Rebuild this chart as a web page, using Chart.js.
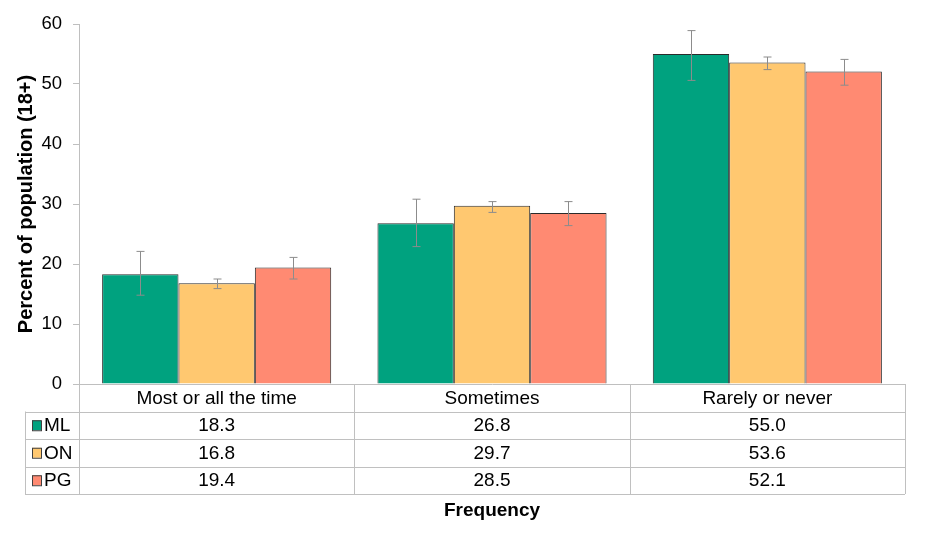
<!DOCTYPE html>
<html>
<head>
<meta charset="utf-8">
<script src="https://cdn.jsdelivr.net/npm/chart.js@4"></script>
<style>
  body { margin: 0; background: #fff; }
  #wrap { width: 930px; height: 558px; }
</style>
</head>
<body>
<div id="wrap"><canvas id="barChart" width="930" height="558"></canvas></div>
<script>
// Data
const categories = ['Most or all the time', 'Sometimes', 'Rarely or never'];
const seriesNames = ['ML', 'ON', 'PG'];
const mlValues = [18.3, 26.8, 55.0];
const onValues = [16.8, 29.7, 53.6];
const pgValues = [19.4, 28.5, 52.1];
// 95% CI
const mlLow = [14.8, 22.9, 50.6];
const mlHigh = [22.1, 30.8, 58.9];
const onLow = [15.9, 28.6, 52.4];
const onHigh = [17.5, 30.4, 54.5];
const pgLow = [17.5, 26.4, 49.8];
const pgHigh = [21.1, 30.4, 54.1];
const yTicks = [0, 10, 20, 30, 40, 50, 60];

const colors = ['#00a27f', '#ffc870', '#ff8a72'];
const FONT = '"Liberation Sans", Arial, sans-serif';

// Error bars
const errorBars = {
  id: 'errorBars',
  afterDatasetsDraw(chart) {
    const ctx = chart.ctx;
    const y = chart.scales.y;
    ctx.save();
    ctx.strokeStyle = '#8c8c8c';
    ctx.lineWidth = 1;
    chart.data.datasets.forEach((ds, i) => {
      const meta = chart.getDatasetMeta(i);
      meta.data.forEach((bar, j) => {
        const x = Math.round(bar.x) + 0.5;
        const top = y.getPixelForValue(ds.high[j]);
        const bot = y.getPixelForValue(ds.low[j]);
        ctx.beginPath();
        ctx.moveTo(x, top); ctx.lineTo(x, bot);
        ctx.moveTo(x - 4, top); ctx.lineTo(x + 4, top);
        ctx.moveTo(x - 4, bot); ctx.lineTo(x + 4, bot);
        ctx.stroke();
      });
    });
    ctx.restore();
  }
};

// Data table below the x axis
const dataTable = {
  id: 'dataTable',
  afterDraw(chart) {
    const ctx = chart.ctx;
    const xs = chart.scales.x;
    const area = chart.chartArea;
    const rowH = 27.5;
    const top = area.bottom;
    const leftCol = 25;
    const n = categories.length;
    const edges = [];
    for (let i = 0; i <= n; i++) {
      edges.push(area.left + (area.right - area.left) * i / n);
    }
    ctx.save();
    ctx.strokeStyle = '#c0c0c0';
    ctx.lineWidth = 1;
    ctx.beginPath();
    // vertical lines
    edges.forEach((e) => {
      const xx = Math.round(e) + 0.5;
      ctx.moveTo(xx, top);
      ctx.lineTo(xx, top + rowH * 4);
    });
    ctx.moveTo(leftCol + 0.5, top + rowH);
    ctx.lineTo(leftCol + 0.5, top + rowH * 4);
    // horizontal lines
    for (let r = 1; r <= 4; r++) {
      const yy = Math.round(top + rowH * r) + 0.5;
      ctx.moveTo(leftCol, yy);
      ctx.lineTo(area.right, yy);
    }
    ctx.stroke();

    ctx.fillStyle = '#000';
    ctx.font = '19px ' + FONT;
    ctx.textAlign = 'center';
    ctx.textBaseline = 'middle';
    categories.forEach((c, i) => {
      ctx.fillText(c, xs.getPixelForValue(i), top + rowH / 2 + 1);
    });
    chart.data.datasets.forEach((ds, r) => {
      const cy = top + rowH * (r + 1) + rowH / 2 + 1;
      // legend key
      ctx.fillStyle = ds.backgroundColor;
      ctx.fillRect(32, cy - 6, 9, 10);
      ctx.strokeStyle = '#404040';
      ctx.strokeRect(32.5, cy - 5.5, 9, 10);
      ctx.fillStyle = '#000';
      ctx.textAlign = 'left';
      ctx.fillText(ds.label, 44, cy);
      ctx.textAlign = 'center';
      ds.data.forEach((v, i) => {
        ctx.fillText(v.toFixed(1), xs.getPixelForValue(i), cy);
      });
    });

    ctx.font = 'bold 19px ' + FONT;
    ctx.fillText('Frequency', (area.left + area.right) / 2, 511);
    ctx.restore();
  }
};

const barChart = document.getElementById('barChart');

new Chart(barChart, {
  type: 'bar',
  data: {
    labels: categories,
    datasets: [
      { label: seriesNames[0], data: mlValues, low: mlLow, high: mlHigh, backgroundColor: colors[0] },
      { label: seriesNames[1], data: onValues, low: onLow, high: onHigh, backgroundColor: colors[1] },
      { label: seriesNames[2], data: pgValues, low: pgLow, high: pgHigh, backgroundColor: colors[2] },
    ].map(ds => Object.assign(ds, {
      borderColor: '#2b2b2b',
      borderWidth: 1,
      borderSkipped: 'bottom',
      categoryPercentage: 0.832,
      barPercentage: 1,
    })),
  },
  options: {
    responsive: false,
    animation: false,
    layout: { padding: { top: 24, right: 25, left: 0, bottom: 0 } },
    plugins: {
      legend: { display: false },
      tooltip: { enabled: false },
    },
    scales: {
      x: {
        grid: { display: false },
        border: { color: '#bfbfbf' },
        ticks: { display: false },
        afterFit(scale) { scale.height = 174; },
      },
      y: {
        min: 0,
        max: 60,
        afterBuildTicks(scale) { scale.ticks = yTicks.map(v => ({ value: v })); },
        grid: { drawOnChartArea: false, tickLength: 6, color: '#bfbfbf' },
        border: { color: '#bfbfbf' },
        ticks: { color: '#000', padding: 11, font: { family: FONT, size: 18.5 } },
        title: {
          display: true,
          text: 'Percent of population (18+)',
          color: '#000',
          padding: { top: 14, bottom: 0 },
          font: { family: FONT, size: 20, weight: 'bold' },
        },
        afterFit(scale) { scale.width = 79; },
      },
    },
  },
  plugins: [errorBars, dataTable],
});
</script>
</body>
</html>
